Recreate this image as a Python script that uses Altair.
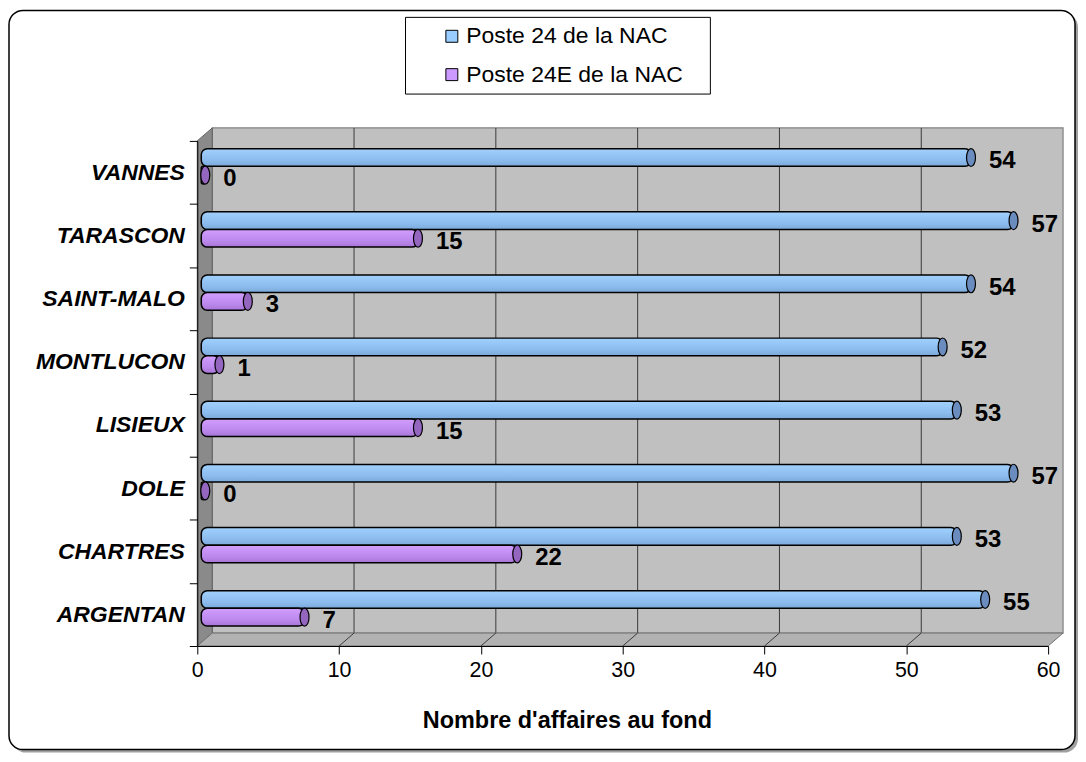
import altair as alt
import pandas as pd

# ---- data ----
cities = ["VANNES", "TARASCON", "SAINT-MALO", "MONTLUCON", "LISIEUX", "DOLE", "CHARTRES", "ARGENTAN"]
poste24 = [54, 57, 54, 52, 53, 57, 53, 55]
poste24e = [0, 15, 3, 1, 15, 0, 22, 7]
series = ["Poste 24 de la NAC", "Poste 24E de la NAC"]
x_ticks = [0, 10, 20, 30, 40, 50, 60]
legend_colors = ["#99CCFF", "#CC99FF"]
x_title = "Nombre d'affaires au fond"

F = "Liberation Sans"
W, H = 854, 507          # plot area (value 0..60, category bands)
DX, DY = 15, 13          # pseudo-3D depth

df = pd.DataFrame({
    "city": cities * 2,
    "series": [series[0]] * len(cities) + [series[1]] * len(cities),
    "value": poste24 + poste24e,
})
one = pd.DataFrame({"k": [0]})
grid_df = pd.DataFrame({"v": x_ticks[1:-1]})

xs = alt.Scale(domain=[x_ticks[0], x_ticks[-1]], nice=False, zero=True)
ys = alt.Scale(domain=cities, paddingInner=0, paddingOuter=0)

xaxis = alt.Axis(values=x_ticks, title=x_title, grid=False, tickSize=8, tickColor="black",
                 domainColor="black", labelFontSize=21.5, labelFont=F, labelColor="black",
                 labelPadding=6, titleFont=F, titleFontSize=23.5, titleFontWeight="bold",
                 titleColor="black", titleX=371, titleY=75, titleBaseline="middle",
                 zindex=1, labelFlush=False)
yaxis = alt.Axis(title=None, tickBand="extent", tickSize=8, tickColor="black", domainColor="black",
                 labelFontSize=23, labelFont=F, labelFontStyle="italic", labelFontWeight="bold",
                 labelColor="black", labelPadding=5, grid=False, zindex=1)

X = lambda f: alt.X(f, scale=xs, axis=xaxis)
Y = lambda f: alt.Y(f, scale=ys, sort=cities, axis=yaxis)

# outer frame with shadow
shadow = alt.Chart(one).mark_rect(fill="#a0a0a0", cornerRadius=14).encode(
    x=alt.value(-186), x2=alt.value(884), y=alt.value(-128), y2=alt.value(614))
frame = alt.Chart(one).mark_rect(fill="white", stroke="black", strokeWidth=1.5, cornerRadius=14).encode(
    x=alt.value(-189), x2=alt.value(881), y=alt.value(-131), y2=alt.value(611))
legend_box = alt.Chart(one).mark_rect(fill="white", stroke="black", strokeWidth=1).encode(
    x=alt.value(209), x2=alt.value(515), y=alt.value(-124), y2=alt.value(-47))

# 3D walls
back_wall = alt.Chart(one).mark_rect(fill="#C0C0C0", stroke="#808080", strokeWidth=1.2).encode(
    x=alt.value(DX), x2=alt.value(W + DX), y=alt.value(-DY), y2=alt.value(H - DY))
left_wall = alt.Chart(one).mark_point(
    shape=f"M0,0 L{DX},{-DY} L{DX},{H - DY} L0,{H} Z", size=4, filled=True,
    fill="#8a8a8a", stroke="#606060", strokeWidth=1, opacity=1).encode(
    x=alt.value(0), y=alt.value(0))
floor = alt.Chart(one).mark_point(
    shape=f"M0,{H} L{DX},{H - DY} L{W + DX},{H - DY} L{W},{H} Z", size=4, filled=True,
    fill="#b2b2b2", stroke="#707070", strokeWidth=1, opacity=1).encode(
    x=alt.value(0), y=alt.value(0))
gridlines = alt.Chart(grid_df).mark_rule(color="#3a3a3a", strokeWidth=1, xOffset=DX).encode(
    x=X("v:Q"), y=alt.value(-DY), y2=alt.value(H - DY))
diag = alt.Chart(grid_df).mark_rule(color="#3a3a3a", strokeWidth=1, x2Offset=DX).encode(
    x=X("v:Q"), x2=alt.X2("v"), y=alt.value(H), y2=alt.value(H - DY))

ELL = "M0,-9 A4.5,9 0 1,1 0,9 A4.5,9 0 1,1 0,-9 Z"

grads = {
    series[0]: alt.Gradient(gradient="linear", x1=0, y1=0, x2=0, y2=1, stops=[
        alt.GradientStop(offset=0, color="#a2d0fc"),
        alt.GradientStop(offset=0.3, color="#96c7f6"),
        alt.GradientStop(offset=0.65, color="#8cbbed"),
        alt.GradientStop(offset=1, color="#7aa9da")]),
    series[1]: alt.Gradient(gradient="linear", x1=0, y1=0, x2=0, y2=1, stops=[
        alt.GradientStop(offset=0, color="#d3a0fd"),
        alt.GradientStop(offset=0.3, color="#c793f6"),
        alt.GradientStop(offset=0.65, color="#bb88ec"),
        alt.GradientStop(offset=1, color="#a874d6")]),
}
caps = {series[0]: "#6a8cbf", series[1]: "#9466bf"}
yoffs = {series[0]: -15, series[1]: 2.7}
SHIFT = 8


def series_layers(s):
    base = alt.Chart(df).transform_filter(alt.datum.series == s)
    bar = base.mark_bar(height=17.7, yOffset=yoffs[s], xOffset=SHIFT, x2Offset=4, cornerRadius=6,
                        fill=grads[s], stroke="black", strokeWidth=1.5).encode(
        x=X("value:Q"), x2=alt.datum(0), y=Y("city:N"))
    cap = base.mark_point(shape=ELL, size=4, filled=True, fill=caps[s], stroke="black",
                          strokeWidth=1.2, opacity=1, xOffset=SHIFT, yOffset=yoffs[s]).encode(
        x=X("value:Q"), y=Y("city:N"))
    lab = base.mark_text(align="left", baseline="middle", dx=26, dy=yoffs[s] + 4,
                         font=F, fontSize=24, fontWeight="bold", color="black").encode(
        x=X("value:Q"), y=Y("city:N"), text="value:Q")
    return [bar, cap, lab]


legend_layer = alt.Chart(pd.DataFrame({"series": series})).mark_point(
    shape="square", filled=True, opacity=0).encode(
    x=alt.value(0), y=alt.value(0),
    color=alt.Color("series:N", scale=alt.Scale(domain=series, range=legend_colors),
                    legend=alt.Legend(title=None, orient="none", legendX=244, legendY=-116.5,
                                      symbolType="square", symbolSize=144, symbolOpacity=1,
                                      symbolStrokeColor="black", symbolStrokeWidth=1,
                                      labelFont=F, labelFontSize=23, labelColor="black",
                                      labelLimit=500, labelOffset=3, rowPadding=14.5, padding=0)))

layers = [shadow, frame, legend_box, back_wall, gridlines, left_wall, floor, diag]
layers += series_layers(series[0])
layers += series_layers(series[1])
layers += [legend_layer]

chart = alt.layer(*layers).properties(
    width=W, height=H,
    autosize=alt.AutoSizeParams(type="none"),
    padding={"left": 190, "top": 132, "right": 30, "bottom": 107},
).configure_view(stroke=None).configure(background="white")

chart.save("out.html", embed_options={"renderer": "svg", "actions": False})
